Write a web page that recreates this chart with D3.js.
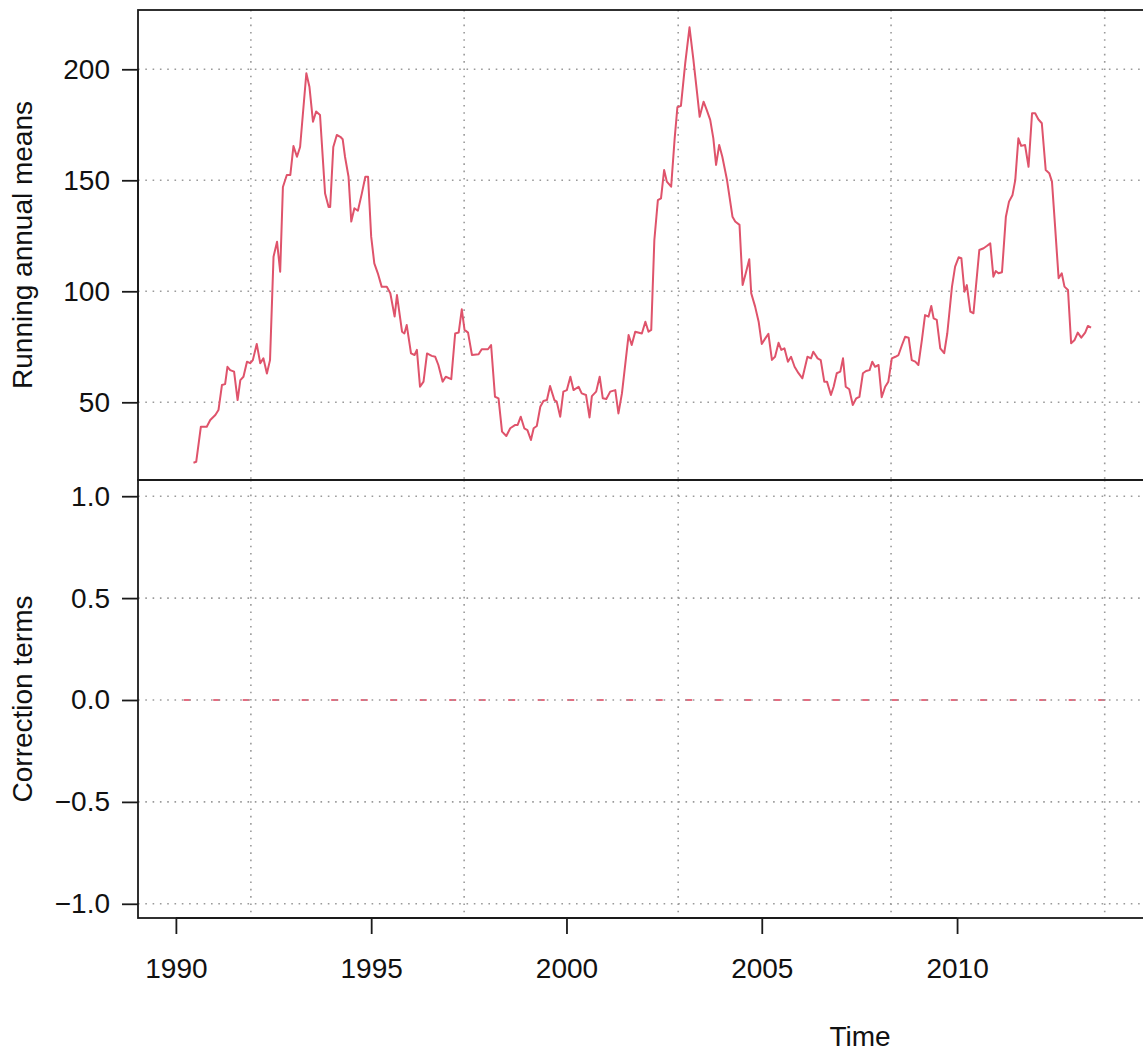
<!DOCTYPE html>
<html>
<head>
<meta charset="utf-8">
<script src="https://cdn.jsdelivr.net/npm/d3@7"></script>
<style>
  body { margin: 0; background: #fff; }
  svg { display: block; }
  text { font-family: "Liberation Sans", Arial, Helvetica, sans-serif; fill: #111; }
</style>
</head>
<body>
<svg id="chart" width="1143" height="1053"></svg>
<script>
// Running annual means (decimal year, value)
const meanTimes = [
  1990.45, 1990.52, 1990.64, 1990.79, 1990.88, 1991.01, 1991.09, 1991.18, 1991.26, 1991.32,
  1991.39, 1991.49, 1991.58, 1991.65, 1991.73, 1991.82, 1991.90, 1991.97, 1992.07, 1992.16,
  1992.24, 1992.33, 1992.41, 1992.50, 1992.59, 1992.67, 1992.74, 1992.84, 1992.93, 1993.01,
  1993.10, 1993.18, 1993.34, 1993.42, 1993.51, 1993.59, 1993.69, 1993.82, 1993.91, 1993.95,
  1994.03, 1994.12, 1994.21, 1994.27, 1994.33, 1994.42, 1994.49, 1994.57, 1994.66, 1994.76,
  1994.85, 1994.92, 1995.00, 1995.08, 1995.17, 1995.27, 1995.40, 1995.49, 1995.60, 1995.66,
  1995.79, 1995.85, 1995.91, 1996.02, 1996.11, 1996.17, 1996.25, 1996.34, 1996.43, 1996.55,
  1996.64, 1996.72, 1996.83, 1996.91, 1997.05, 1997.15, 1997.24, 1997.32, 1997.39, 1997.48,
  1997.58, 1997.75, 1997.83, 1997.99, 1998.07, 1998.17, 1998.26, 1998.35, 1998.46, 1998.56,
  1998.69, 1998.75, 1998.83, 1998.92, 1999.00, 1999.09, 1999.16, 1999.24, 1999.33, 1999.41,
  1999.50, 1999.58, 1999.69, 1999.75, 1999.84, 1999.92, 2000.01, 2000.10, 2000.18, 2000.31,
  2000.39, 2000.50, 2000.59, 2000.65, 2000.76, 2000.85, 2000.93, 2001.02, 2001.12, 2001.25,
  2001.33, 2001.42, 2001.59, 2001.67, 2001.76, 2001.93, 2002.02, 2002.10, 2002.17, 2002.25,
  2002.34, 2002.42, 2002.50, 2002.57, 2002.68, 2002.77, 2002.84, 2002.93, 2003.04, 2003.15,
  2003.25, 2003.34, 2003.41, 2003.51, 2003.59, 2003.68, 2003.76, 2003.83, 2003.91, 2003.99,
  2004.11, 2004.25, 2004.32, 2004.43, 2004.51, 2004.59, 2004.68, 2004.73, 2004.83, 2004.92,
  2005.00, 2005.09, 2005.17, 2005.26, 2005.34, 2005.43, 2005.50, 2005.58, 2005.67, 2005.75,
  2005.84, 2005.94, 2006.04, 2006.17, 2006.26, 2006.32, 2006.43, 2006.51, 2006.60, 2006.67,
  2006.77, 2006.84, 2006.92, 2007.01, 2007.08, 2007.15, 2007.24, 2007.33, 2007.42, 2007.50,
  2007.59, 2007.67, 2007.76, 2007.83, 2007.90, 2007.99, 2008.07, 2008.16, 2008.24, 2008.33,
  2008.42, 2008.50, 2008.59, 2008.67, 2008.76, 2008.84, 2008.93, 2009.01, 2009.10, 2009.18,
  2009.27, 2009.34, 2009.40, 2009.48, 2009.57, 2009.67, 2009.75, 2009.87, 2009.95, 2010.04,
  2010.11, 2010.19, 2010.25, 2010.34, 2010.42, 2010.57, 2010.68, 2010.76, 2010.85, 2010.93,
  2010.99, 2011.06, 2011.15, 2011.25, 2011.33, 2011.42, 2011.49, 2011.57, 2011.64, 2011.74,
  2011.83, 2011.92, 2012.00, 2012.08, 2012.17, 2012.27, 2012.36, 2012.43, 2012.51, 2012.60,
  2012.68, 2012.75, 2012.84, 2012.92, 2013.01, 2013.09, 2013.18, 2013.28, 2013.35, 2013.43
];
const meanValues = [
  22.8, 23.2, 39.0, 39.0, 42.0, 44.3, 46.5, 57.8, 58.2, 66.0,
  64.5, 63.8, 51.0, 60.0, 61.5, 68.3, 67.6, 69.0, 76.3, 67.6,
  69.8, 63.0, 69.0, 115.6, 122.3, 108.8, 147.0, 152.4, 152.4, 165.4,
  160.6, 165.0, 198.2, 192.0, 176.4, 181.0, 179.4, 144.0, 138.0, 138.0,
  165.0, 170.4, 169.6, 168.5, 160.6, 151.6, 131.4, 137.4, 136.3, 144.0,
  151.6, 151.6, 124.6, 112.6, 108.1, 102.0, 102.0, 99.1, 88.6, 98.3,
  81.8, 81.0, 84.8, 72.0, 71.3, 73.6, 57.0, 59.3, 72.0, 70.9,
  70.5, 66.8, 59.3, 61.5, 60.4, 81.0, 81.4, 91.9, 82.6, 81.4,
  71.3, 71.6, 73.9, 73.9, 75.8, 52.5, 51.8, 36.8, 34.8, 38.3,
  39.8, 39.8, 43.5, 38.3, 37.5, 33.0, 38.3, 39.3, 48.0, 50.6,
  51.0, 57.3, 51.0, 50.3, 43.5, 54.8, 55.5, 61.5, 55.5, 57.0,
  54.0, 53.3, 43.2, 52.8, 54.8, 61.5, 51.8, 51.5, 54.8, 55.5,
  45.0, 54.0, 80.3, 75.8, 81.8, 81.0, 86.3, 81.8, 82.6, 123.1,
  141.1, 141.9, 154.6, 149.4, 147.1, 168.9, 182.9, 183.5, 202.7, 218.9,
  204.2, 189.9, 178.6, 185.4, 181.7, 177.2, 168.9, 156.9, 165.9, 160.6,
  150.1, 133.6, 131.4, 129.9, 102.8, 108.1, 114.4, 99.1, 93.1, 86.3,
  76.3, 78.8, 80.8, 69.1, 70.5, 76.8, 73.6, 74.3, 68.3, 70.5,
  66.0, 63.1, 60.8, 70.5, 69.8, 72.8, 69.8, 69.0, 59.3, 59.3,
  53.3, 57.0, 63.1, 63.8, 69.8, 57.0, 55.9, 48.8, 51.8, 52.5,
  63.1, 64.1, 64.5, 68.3, 66.0, 66.8, 52.3, 57.0, 59.3, 69.8,
  70.5, 71.3, 75.8, 79.5, 79.1, 69.0, 68.3, 66.8, 78.1, 89.3,
  88.6, 93.4, 87.8, 87.1, 74.3, 72.1, 81.1, 102.1, 111.1, 115.3,
  114.9, 99.8, 102.8, 90.8, 90.1, 118.6, 119.4, 120.4, 121.6, 106.6,
  109.1, 108.1, 108.6, 133.6, 140.4, 143.4, 150.1, 168.9, 165.5, 165.9,
  156.1, 180.2, 180.2, 177.5, 175.7, 154.6, 153.2, 149.4, 129.1, 105.9,
  108.1, 102.1, 100.6, 76.6, 78.1, 81.4, 79.1, 81.4, 84.4, 83.6
];

// Correction terms: constant zero over the whole span
const corrTimes = [1990.2, 2014.0];
const corrValues = [0, 0];

const meanTicks = [50, 100, 150, 200];
const corrTicks = [-1.0, -0.5, 0.0, 0.5, 1.0];
const yearTicks = [1990, 1995, 2000, 2005, 2010];
const gridYears = [1991.92, 1997.38, 2002.86, 2008.31, 2013.78];

const svg = d3.select("#chart");

const L = 138, R = 1582;
const topPanel = { y0: 10, y1: 480 };
const botPanel = { y0: 480, y1: 918 };

const x = d3.scaleLinear().domain([1989.03, 2026.0]).range([L, R]);
const yTop = d3.scaleLinear().domain([15.0, 226.7]).range([topPanel.y1, topPanel.y0]);
const yBot = d3.scaleLinear().domain([-1.0697, 1.0795]).range([botPanel.y1, botPanel.y0]);

const red = "#DF536B";
const ink = "#1a1a1a";
const gridStyle = g => g.attr("stroke", "#9a9a9a").attr("stroke-width", 1.6)
  .attr("stroke-dasharray", "1.6 5.7").attr("fill", "none");

function panelGrid(yScale, ticks, p) {
  const g = svg.append("g");
  g.selectAll("line.h").data(ticks).join("line").attr("class", "h")
    .attr("x1", L).attr("x2", R)
    .attr("y1", d => yScale(d)).attr("y2", d => yScale(d))
    .call(gridStyle);
  g.selectAll("line.v").data(gridYears).join("line").attr("class", "v")
    .attr("x1", d => x(d)).attr("x2", d => x(d))
    .attr("y1", p.y0).attr("y2", p.y1)
    .call(gridStyle);
  return g;
}

// correction line sits beneath its grid
const corrLine = d3.line().x((d, i) => x(corrTimes[i])).y(d => yBot(d));
svg.append("path").datum(corrValues)
  .attr("d", corrLine)
  .attr("fill", "none").attr("stroke", red).attr("stroke-width", 2)
  .attr("stroke-opacity", 0.85).attr("stroke-dasharray", "7 22.5");

panelGrid(yTop, meanTicks, topPanel);
panelGrid(yBot, corrTicks, botPanel);

// running mean series
const meanLine = d3.line().x((d, i) => x(meanTimes[i])).y(d => yTop(d));
svg.append("path").datum(meanValues)
  .attr("d", meanLine)
  .attr("fill", "none").attr("stroke", red).attr("stroke-width", 2)
  .attr("stroke-linejoin", "round");

// panel boxes
[topPanel, botPanel].forEach(p => {
  svg.append("rect").attr("x", L).attr("y", p.y0)
    .attr("width", R - L).attr("height", p.y1 - p.y0)
    .attr("fill", "none").attr("stroke", ink).attr("stroke-width", 1.8);
});

// axes
const fontSize = 28;
function styleAxis(g) {
  g.select(".domain").remove();
  g.selectAll(".tick line").attr("stroke", ink).attr("stroke-width", 1.8);
  g.selectAll(".tick text").attr("font-size", fontSize).attr("fill", "#111")
    .attr("font-family", "'Liberation Sans', Arial, sans-serif");
}

svg.append("g").attr("transform", `translate(${L},0)`)
  .call(d3.axisLeft(yTop).tickValues(meanTicks).tickSize(16).tickPadding(12).tickFormat(d3.format("d")))
  .call(styleAxis);
svg.append("g").attr("transform", `translate(${L},0)`)
  .call(d3.axisLeft(yBot).tickValues(corrTicks).tickSize(16).tickPadding(12).tickFormat(d3.format(".1f")))
  .call(styleAxis);
svg.append("g").attr("transform", `translate(0,${botPanel.y1})`)
  .call(d3.axisBottom(x).tickValues(yearTicks).tickSize(16).tickPadding(24).tickFormat(d3.format("d")))
  .call(styleAxis);

// axis lines spanning the tick range
svg.append("line").attr("x1", L).attr("x2", L)
  .attr("y1", yTop(meanTicks[0])).attr("y2", yTop(meanTicks[meanTicks.length - 1]))
  .attr("stroke", ink).attr("stroke-width", 1.8);
svg.append("line").attr("x1", x(yearTicks[0])).attr("x2", x(yearTicks[yearTicks.length - 1]))
  .attr("y1", botPanel.y1).attr("y2", botPanel.y1)
  .attr("stroke", ink).attr("stroke-width", 1.8);

// axis titles
svg.append("text").attr("transform", `translate(32,${(topPanel.y0 + topPanel.y1) / 2}) rotate(-90)`)
  .attr("text-anchor", "middle").attr("font-size", fontSize).text("Running annual means");
svg.append("text").attr("transform", `translate(32,${(botPanel.y0 + botPanel.y1) / 2}) rotate(-90)`)
  .attr("text-anchor", "middle").attr("font-size", fontSize).text("Correction terms");
svg.append("text").attr("x", 860).attr("y", 1046)
  .attr("text-anchor", "middle").attr("font-size", fontSize).text("Time");
</script>
</body>
</html>
